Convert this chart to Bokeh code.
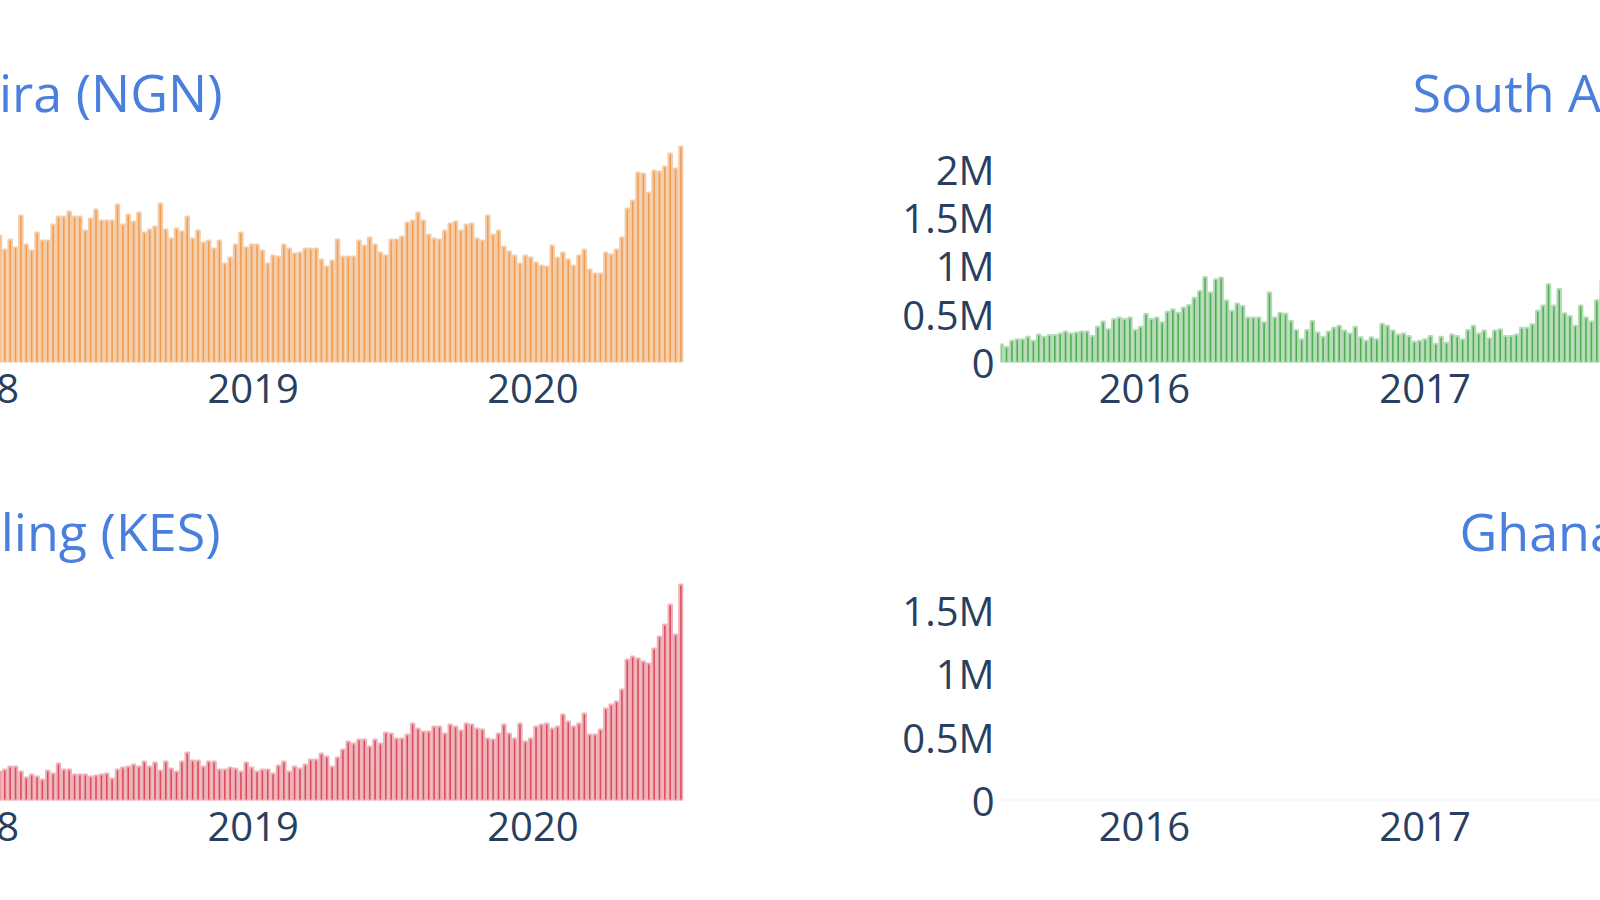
from datetime import datetime, timedelta
import pandas as pd
from bokeh.plotting import figure
from bokeh.layouts import row, column
from bokeh.models import Range1d, FixedTicker, DatetimeTickFormatter, Label, Span, CustomJSTickFormatter
from bokeh.embed import file_html
from bokeh.resources import INLINE

# ---------------- data (weekly trading volume) ----------------
titles = ["Nigerian Naira (NGN)", "South African Rand (ZAR)", "Kenyan Shilling (KES)", "Ghanaian Cedi (GHS)"]

# NGN, millions (weeks ending 2020-07-12, visible part)
ngn_volume_m = [127, 113, 123, 115, 147, 118, 112, 130, 122, 122,
                138, 146, 146, 151, 146, 146, 132, 144, 153, 142,
                142, 142, 158, 138, 148, 141, 150, 130, 133, 136,
                159, 133, 124, 134, 131, 146, 124, 132, 120, 122,
                114, 122, 99, 105, 118, 130, 115, 118, 118, 112,
                99, 107, 106, 118, 114, 109, 110, 114, 114, 114,
                103, 96, 102, 123, 106, 106, 106, 122, 117, 125,
                118, 110, 107, 123, 123, 126, 140, 142, 150, 142,
                128, 124, 123, 132, 139, 141, 132, 138, 139, 124,
                122, 147, 128, 132, 116,
                111, 107, 99, 107, 105, 100, 97, 96, 117, 105,
                110, 103, 97, 107, 113, 93, 89, 89, 110, 108, 113, 125,
                154, 162, 190, 189, 170, 192, 191, 196, 209, 194, 216]

# KES, millions (weeks ending 2020-07-12, visible part)
kes_volume_m = [29, 31, 34, 34, 29, 23, 26, 24, 21, 30, 27, 37, 31, 31, 26, 26, 26, 24,
                25, 26, 27, 22, 31, 33, 34, 36, 34, 39, 34, 38, 30, 39, 32, 29,
                39, 48, 40, 40, 34, 39, 39, 31, 31, 33, 32, 29, 38, 33, 29, 31,
                31, 27, 35, 39, 29, 34, 32, 36, 41, 41, 47, 44, 34, 43, 51, 59,
                57, 61, 61, 54, 61, 57, 68, 67, 62, 62, 66, 77, 72, 69, 69, 74,
                74, 67, 76, 74, 70, 77, 76, 72, 71, 62, 61, 67, 76, 67, 62, 77,
                59, 62, 74, 76, 77, 72, 74, 86, 79, 74, 77, 87, 66, 66, 71, 92,
                96, 99, 111, 141, 144, 142, 139, 137, 152, 164, 176, 196, 166, 216]

# ZAR, millions (weeks from 2015-06-28, visible part)
zar_volume_m = [0.19, 0.16, 0.225, 0.24, 0.24, 0.265, 0.225, 0.29, 0.265, 0.285,
                0.285, 0.30, 0.32, 0.30, 0.31, 0.32, 0.32, 0.275, 0.37, 0.425,
                0.345, 0.45, 0.465, 0.45, 0.465, 0.335, 0.37, 0.505, 0.45, 0.465,
                0.415, 0.525, 0.55, 0.515, 0.57, 0.595, 0.67, 0.74, 0.885, 0.725,
                0.86, 0.88, 0.64, 0.535, 0.61, 0.585, 0.465, 0.465, 0.465, 0.415,
                0.725, 0.465, 0.515, 0.505, 0.43, 0.335, 0.24, 0.335, 0.43, 0.31,
                0.265, 0.32, 0.36, 0.38, 0.33, 0.30, 0.37, 0.26, 0.225, 0.26,
                0.24, 0.40, 0.38, 0.33, 0.29,
                0.30, 0.275, 0.215, 0.225, 0.24, 0.275, 0.195, 0.265, 0.205, 0.29,
                0.275, 0.24, 0.335, 0.38, 0.30, 0.33, 0.25, 0.33, 0.345, 0.275,
                0.275, 0.29, 0.36, 0.36, 0.395, 0.535, 0.59, 0.81, 0.59, 0.76,
                0.51, 0.48, 0.38, 0.59, 0.465, 0.425, 0.645, 0.845]

# GHS, millions (weeks from 2015-06-28, visible part: no volume yet)
ghs_volume_m = [0, 0, 0, 0, 0, 0, 0, 0, 0, 0, 0, 0, 0, 0, 0, 0, 0, 0, 0, 0,
                0, 0, 0, 0, 0, 0, 0, 0, 0, 0, 0, 0, 0, 0, 0, 0, 0, 0, 0, 0,
                0, 0, 0, 0, 0, 0, 0, 0, 0, 0, 0, 0, 0, 0, 0, 0, 0, 0, 0, 0,
                0, 0, 0, 0, 0, 0, 0, 0, 0, 0, 0, 0, 0, 0, 0, 0, 0, 0, 0, 0,
                0, 0, 0, 0, 0, 0, 0, 0, 0, 0, 0, 0, 0, 0, 0, 0, 0, 0, 0, 0,
                0, 0, 0, 0, 0, 0, 0, 0, 0, 0, 0, 0, 0]

left_last_week = "2020-07-12"
right_first_week = "2015-06-28"
left_year_ticks = ["2018", "2019", "2020"]
right_year_ticks = ["2016", "2017"]
zar_ticks = [0, 0.5, 1, 1.5, 2]
ghs_ticks = [0, 0.5, 1, 1.5]

left_dates = pd.date_range(end=left_last_week, periods=len(ngn_volume_m), freq="W-SUN")
right_dates = pd.date_range(start=right_first_week, periods=len(zar_volume_m), freq="W-SUN")

# ---------------- styling / geometry ----------------
FONT = "Open Sans"
TITLE_COLOR = "#4A7FDE"
TICK_COLOR = "#2a3f5f"
colors = {
    "NGN": ("#F59B4C", "#F3CDAA"),
    "ZAR": ("#4DAE52", "#B4DBB5"),
    "KES": ("#DF4A5A", "#ECB3BA"),
    "GHS": ("#8E6CCF", "#D9CCF0"),
}
PPD = 280 / 365.25            # pixels per day on every x axis
BAR_W = 0.66 * 7 * 24 * 3600 * 1000
SHIFT = 80                    # the left subplots continue past the window's left edge

LEFT_FRAME_W = 683 + SHIFT
RIGHT_FRAME_W = 600
TOP_FRAME_H = 322             # page y 40 .. 362
BOT_FRAME_H = 330             # page y 470 .. 800

left_end = datetime(2020, 1, 1) + timedelta(days=(683 - 532.5) / PPD)
left_start = left_end - timedelta(days=LEFT_FRAME_W / PPD)
right_start = datetime(2016, 1, 1) - timedelta(days=(1144 - 1000) / PPD)
right_end = right_start + timedelta(days=RIGHT_FRAME_W / PPD)


def ms(d):
    return pd.Timestamp(d).value / 1e6


def make_fig(x0, x1, y1, frame_w, frame_h, borders, has_y):
    lb, rb, tb, bb = borders
    p = figure(x_axis_type="datetime",
               x_range=Range1d(x0, x1), y_range=Range1d(0, y1),
               frame_width=frame_w, frame_height=frame_h,
               min_border_left=lb, min_border_right=rb,
               min_border_top=tb, min_border_bottom=bb,
               y_axis_location="left" if has_y else None,
               toolbar_location=None, output_backend="svg", title=None)
    p.outline_line_color = None
    p.xgrid.visible = False
    p.ygrid.visible = False
    p.background_fill_color = "white"
    p.border_fill_color = "white"
    axes = [p.xaxis[0]] + ([p.yaxis[0]] if has_y else [])
    for ax in axes:
        ax.axis_line_color = None
        ax.major_tick_line_color = None
        ax.minor_tick_line_color = None
        ax.major_tick_out = 0
        ax.major_tick_in = 0
        ax.minor_tick_out = 0
        ax.minor_tick_in = 0
        ax.major_label_text_font = FONT
        ax.major_label_text_font_size = "40px"
        ax.major_label_text_color = TICK_COLOR
    p.xaxis[0].major_label_standoff = 11
    if has_y:
        p.yaxis[0].major_label_standoff = 6
    return p


def add_bars(p, dates, vals, key, line=True):
    dark, light = colors[key]
    p.vbar(x=dates, top=vals, width=BAR_W, fill_color=dark,
           line_color=light if line else None, line_width=2.0)


def year_axis(p, labels):
    p.xaxis.ticker = FixedTicker(ticks=[ms(datetime(int(y), 1, 1)) for y in labels])
    p.xaxis.formatter = DatetimeTickFormatter(years="%Y", months="%Y", days="%Y")


def m_axis(p, ticks):
    p.yaxis.ticker = FixedTicker(ticks=ticks)
    p.yaxis.formatter = CustomJSTickFormatter(code="return tick == 0 ? '0' : tick + 'M';")


# ---- top-left: NGN (1 px per million on the page) ----
ngn_top = TOP_FRAME_H * 1.0
p1 = make_fig(left_start, left_end, ngn_top, LEFT_FRAME_W, TOP_FRAME_H, (0, 17, 40, 78), False)
add_bars(p1, left_dates, ngn_volume_m, "NGN")
year_axis(p1, left_year_ticks)

# ---- top-right: ZAR ----
zar_top = TOP_FRAME_H / 96.7
p2 = make_fig(right_start, right_end, zar_top, RIGHT_FRAME_W, TOP_FRAME_H, (300, 0, 40, 78), True)
p2.add_layout(Span(location=0, dimension="width", line_color="#EBF0F8", line_width=2, level="underlay"))
add_bars(p2, right_dates, zar_volume_m, "ZAR")
year_axis(p2, right_year_ticks)
m_axis(p2, zar_ticks)

# ---- bottom-left: KES ----
kes_top = BOT_FRAME_H * 1.0
p3 = make_fig(left_start, left_end, kes_top, LEFT_FRAME_W, BOT_FRAME_H, (0, 17, 30, 80), False)
add_bars(p3, left_dates, kes_volume_m, "KES")
year_axis(p3, left_year_ticks)

# ---- bottom-right: GHS ----
ghs_top = BOT_FRAME_H / 126.7
p4 = make_fig(right_start, right_end, ghs_top, RIGHT_FRAME_W, BOT_FRAME_H, (300, 0, 30, 80), True)
p4.add_layout(Span(location=0, dimension="width", line_color="#EBF0F8", line_width=2, level="underlay"))
add_bars(p4, right_dates, ghs_volume_m, "GHS", line=False)
year_axis(p4, right_year_ticks)
m_axis(p4, ghs_ticks)


# ---- subplot titles (centred over the full subplots, only partly in view) ----
def lx(page_x):
    return left_start + timedelta(days=(page_x + SHIFT) / PPD)


def rx(page_x):
    return right_start + timedelta(days=(page_x - 1000) / PPD)


def title_label(p, x, y, text, align):
    p.add_layout(Label(x=x, y=y, text=text, text_align=align, text_baseline="alphabetic",
                       text_font=FONT, text_font_size="52px", text_color=TITLE_COLOR))


TOP_TITLE_Y = 91     # page y of the title baseline, top row
BOT_TITLE_Y = 530    # page y of the title baseline, bottom row
title_label(p1, lx(222), (362 - TOP_TITLE_Y) * ngn_top / TOP_FRAME_H, titles[0], "right")
title_label(p2, rx(1412), (362 - TOP_TITLE_Y) * zar_top / TOP_FRAME_H, titles[1], "left")
title_label(p3, lx(220), (800 - BOT_TITLE_Y) * kes_top / BOT_FRAME_H, titles[2], "right")
title_label(p4, rx(1459), (800 - BOT_TITLE_Y) * ghs_top / BOT_FRAME_H, titles[3], "left")

layout = column(row(p1, p2), row(p3, p4), styles={"margin-left": f"-{SHIFT}px"})
open("out.html", "w").write(file_html(layout, INLINE))
